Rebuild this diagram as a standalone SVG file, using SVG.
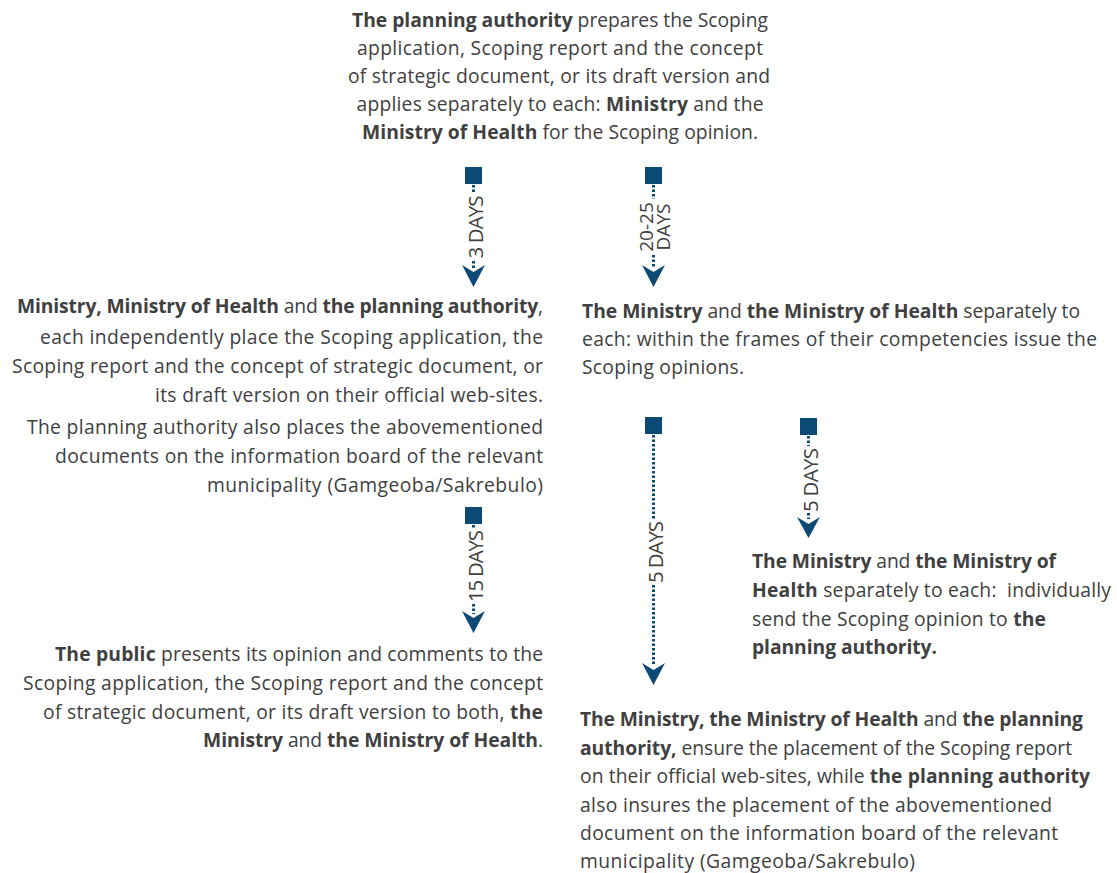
<svg xmlns="http://www.w3.org/2000/svg" width="1117" height="873" viewBox="0 0 1117 873">
<style>
.t{font-family:"Open Sans",Lato,sans-serif;font-size:19.3px;fill:#404040}
.b{font-weight:bold}
.e{text-anchor:end}
.m{text-anchor:middle}
.lbl{font-family:"Open Sans",Lato,sans-serif;font-size:20.5px;fill:#404040;text-anchor:middle}
.lbl2{font-family:"Open Sans",Lato,sans-serif;font-size:19px;fill:#404040;text-anchor:middle}
.dot{stroke:#0b4a75;stroke-width:3;stroke-dasharray:2.5 2;fill:none}
.sq{fill:#0b4a75}
.ah{fill:#0b4a75}
</style>
<rect width="1117" height="873" fill="#fff"/>
<g id="n1">
<text class="t m" x="560" y="27" textLength="416" lengthAdjust="spacing"><tspan class="b">The planning authority</tspan> prepares the Scoping</text>
<text class="t m" x="560" y="55" textLength="406" lengthAdjust="spacing">application, Scoping report and the concept</text>
<text class="t m" x="559" y="83" textLength="422" lengthAdjust="spacing">of strategic document, or its draft version and</text>
<text class="t m" x="560" y="111" textLength="407" lengthAdjust="spacing">applies separately to each: <tspan class="b">Ministry</tspan> and the</text>
<text class="t m" x="560" y="139" textLength="396" lengthAdjust="spacing"><tspan class="b">Ministry of Health</tspan> for the Scoping opinion.</text>
</g>
<g id="n2">
<text class="t e" x="543" y="313" textLength="526" lengthAdjust="spacing"><tspan class="b">Ministry, Ministry of Health</tspan> and <tspan class="b">the planning authority</tspan>,</text>
<text class="t e" x="543" y="344" textLength="503" lengthAdjust="spacing">each independently place the Scoping application, the</text>
<text class="t e" x="543" y="373" textLength="531" lengthAdjust="spacing">Scoping report and the concept of strategic document, or</text>
<text class="t e" x="543" y="402" textLength="388" lengthAdjust="spacing">its draft version on their official web-sites.</text>
<text class="t e" x="543" y="434" textLength="516" lengthAdjust="spacing">The planning authority also places the abovementioned</text>
<text class="t e" x="543" y="463" textLength="488" lengthAdjust="spacing">documents on the information board of the relevant</text>
<text class="t e" x="543" y="492" textLength="336" lengthAdjust="spacing">municipality (Gamgeoba/Sakrebulo)</text>
</g>
<g id="n3">
<text class="t" x="582" y="318" textLength="498" lengthAdjust="spacing"><tspan class="b">The Ministry</tspan> and <tspan class="b">the Ministry of Health</tspan> separately to</text>
<text class="t" x="582" y="346" textLength="515" lengthAdjust="spacing">each: within the frames of their competencies issue the</text>
<text class="t" x="582" y="374" textLength="162" lengthAdjust="spacing">Scoping opinions.</text>
</g>
<g id="n4">
<text class="t" x="752" y="568" textLength="304" lengthAdjust="spacing"><tspan class="b">The Ministry</tspan> and <tspan class="b">the Ministry of</tspan></text>
<text class="t" x="752" y="597" textLength="359" lengthAdjust="spacing" xml:space="preserve"><tspan class="b">Health</tspan> separately to each:  individually</text>
<text class="t" x="752" y="626" textLength="294" lengthAdjust="spacing">send the Scoping opinion to <tspan class="b">the</tspan></text>
<text class="t b" x="752" y="654" textLength="185" lengthAdjust="spacing">planning authority.</text>
</g>
<g id="n5">
<text class="t e" x="543" y="661" textLength="488" lengthAdjust="spacing"><tspan class="b">The public</tspan> presents its opinion and comments to the</text>
<text class="t e" x="543" y="690" textLength="520" lengthAdjust="spacing">Scoping application, the Scoping report and the concept</text>
<text class="t e" x="543" y="719" textLength="500" lengthAdjust="spacing">of strategic document, or its draft version to both, <tspan class="b">the</tspan></text>
<text class="t e" x="543" y="747" textLength="340" lengthAdjust="spacing"><tspan class="b">Ministry</tspan> and <tspan class="b">the Ministry of Health</tspan>.</text>
</g>
<g id="n6">
<text class="t" x="580" y="726" textLength="503" lengthAdjust="spacing"><tspan class="b">The Ministry, the Ministry of Health</tspan> and <tspan class="b">the planning</tspan></text>
<text class="t" x="580" y="755" textLength="492" lengthAdjust="spacing"><tspan class="b">authority,</tspan> ensure the placement of the Scoping report</text>
<text class="t" x="580" y="783" textLength="510" lengthAdjust="spacing">on their official web-sites, while <tspan class="b">the planning authority</tspan></text>
<text class="t" x="580" y="812" textLength="472" lengthAdjust="spacing">also insures the placement of the abovementioned</text>
<text class="t" x="580" y="840" textLength="478" lengthAdjust="spacing">document on the information board of the relevant</text>
<text class="t" x="580" y="868" textLength="335" lengthAdjust="spacing">municipality (Gamgeoba/Sakrebulo)</text>
</g>
<g id="connectors">
<!-- 3 DAYS -->
<rect class="sq" x="465" y="167" width="17" height="17"/>
<line class="dot" x1="473.5" y1="185" x2="473.5" y2="193"/>
<line class="dot" x1="473.5" y1="261" x2="473.5" y2="268"/>
<path class="ah" d="M462,265 L473.5,272 L485,265 L473.5,287 Z"/>
<text class="lbl" transform="translate(482.5,227) rotate(-90)" textLength="63" lengthAdjust="spacing">3 DAYS</text>
<!-- 20-25 DAYS -->
<rect class="sq" x="645" y="167" width="17" height="17"/>
<line class="dot" x1="653.5" y1="185" x2="653.5" y2="199"/>
<line class="dot" x1="653.5" y1="255" x2="653.5" y2="268"/>
<path class="ah" d="M642,265 L653.5,272 L665,265 L653.5,287 Z"/>
<text class="lbl2" transform="translate(653.5,227) rotate(-90)"><tspan x="0" y="-1">20-25</tspan><tspan x="0" y="16.5">DAYS</tspan></text>
<!-- 15 DAYS -->
<rect class="sq" x="465" y="507" width="17" height="17"/>
<line class="dot" x1="473.5" y1="525" x2="473.5" y2="529"/>
<line class="dot" x1="473.5" y1="604" x2="473.5" y2="614"/>
<path class="ah" d="M462,611 L473.5,618 L485,611 L473.5,633 Z"/>
<text class="lbl" transform="translate(482.5,566) rotate(-90)" textLength="72" lengthAdjust="spacing">15 DAYS</text>
<!-- 5 DAYS long -->
<rect class="sq" x="645" y="417" width="17" height="17"/>
<line class="dot" x1="653.5" y1="435" x2="653.5" y2="519"/>
<line class="dot" x1="653.5" y1="585" x2="653.5" y2="665"/>
<path class="ah" d="M642,663 L653.5,670 L665,663 L653.5,685 Z"/>
<text class="lbl" transform="translate(662.5,552) rotate(-90)" textLength="62" lengthAdjust="spacing">5 DAYS</text>
<!-- 5 DAYS short -->
<rect class="sq" x="800" y="418" width="17" height="17"/>
<line class="dot" x1="808.5" y1="436" x2="808.5" y2="446"/>
<line class="dot" x1="808.5" y1="513" x2="808.5" y2="519"/>
<path class="ah" d="M797,517 L808.5,524 L820,517 L808.5,538 Z"/>
<text class="lbl" transform="translate(817.5,480) rotate(-90)" textLength="64" lengthAdjust="spacing">5 DAYS</text>
</g>
</svg>
